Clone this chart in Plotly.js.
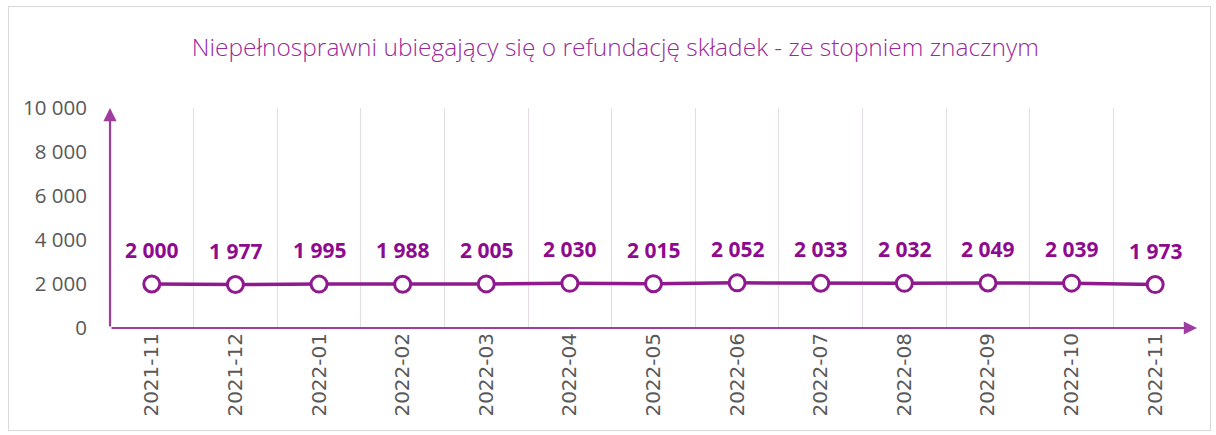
<!DOCTYPE html>
<html>
<head>
<meta charset="utf-8">
<script src="https://cdn.plot.ly/plotly-3.0.1.min.js"></script>
<style>
html,body{margin:0;padding:0;background:#fff;}
#frame{position:absolute;left:8px;top:6px;width:1201px;height:423px;border:1px solid #d9d9d9;}
#chart{position:absolute;left:0;top:0;width:1216px;height:435px;}
</style>
</head>
<body>
<div id="frame"></div>
<div id="chart"></div>
<script>
const titleText = "Niepełnosprawni ubiegający się o refundację składek - ze stopniem znacznym";
const months = ["2021-11","2021-12","2022-01","2022-02","2022-03","2022-04","2022-05","2022-06","2022-07","2022-08","2022-09","2022-10","2022-11"];
const values = [2000,1977,1995,1988,2005,2030,2015,2052,2033,2032,2049,2039,1973];
const yTicks = [0,2000,4000,6000,8000,10000];

const purple = "#8e1a8e";
const axisPurple = "#a03ca0";
const fmt = v => String(v).replace(/\B(?=(\d{3})+(?!\d))/g, " ");

const trace = {
  x: months, y: values, type: "scatter", mode: "lines+markers",
  line: {color: purple, width: 3.5},
  marker: {symbol: "circle", size: 16, color: "#ffffff", line: {color: purple, width: 3}},
  hoverinfo: "skip", showlegend: false
};

const annotations = months.map((m, i) => ({
  x: m, y: values[i], xref: "x", yref: "y", text: fmt(values[i]),
  showarrow: false, yshift: 34,
  font: {family: "Open Sans, sans-serif", size: 21, color: "#8e0a8e", weight: 700}
}));
annotations.push({
  x: months.length - 0.5, y: 0, ax: -0.5, ay: 0, xref: "x", yref: "y", axref: "x", ayref: "y",
  text: "", showarrow: true, arrowhead: 2, arrowsize: 1.2, arrowwidth: 2.2, arrowcolor: axisPurple
});
annotations.push({
  x: -0.5, y: yTicks[yTicks.length-1], ax: -0.5, ay: 0, xref: "x", yref: "y", axref: "x", ayref: "y",
  text: "", showarrow: true, arrowhead: 2, arrowsize: 1.2, arrowwidth: 2.2, arrowcolor: axisPurple
});

const layout = {
  width: 1216, height: 435,
  margin: {l: 110, r: 19, t: 108, b: 107},
  paper_bgcolor: "rgba(0,0,0,0)", plot_bgcolor: "rgba(0,0,0,0)",
  separators: ", ",
  title: {
    text: titleText, xref: "container", x: 0.506, xanchor: "center",
    yref: "container", y: 0.89, yanchor: "middle",
    font: {family: "Open Sans, sans-serif", size: 24.5, color: "#9a2a99", weight: 300}
  },
  xaxis: {
    type: "category", range: [-0.5, months.length - 0.5],
    tickson: "boundaries", showgrid: true, gridcolor: "#e3dce3", gridwidth: 1,
    ticks: "outside", ticklen: 16, tickcolor: "rgba(0,0,0,0)",
    tickangle: -90, tickfont: {family: "DejaVu Sans, sans-serif", size: 20, color: "#595959"},
    showline: false, zeroline: false, fixedrange: true
  },
  yaxis: {
    range: [0, 10000], tickvals: yTicks, ticktext: yTicks.map(fmt),
    showgrid: false, zeroline: false, showline: false,
    ticks: "outside", ticklen: 18, tickcolor: "rgba(0,0,0,0)",
    tickfont: {family: "Open Sans, sans-serif", size: 20.5, color: "#595959"},
    fixedrange: true
  },
  annotations: annotations
};

Plotly.newPlot("chart", [trace], layout, {staticPlot: true, displayModeBar: false});
</script>
</body>
</html>
